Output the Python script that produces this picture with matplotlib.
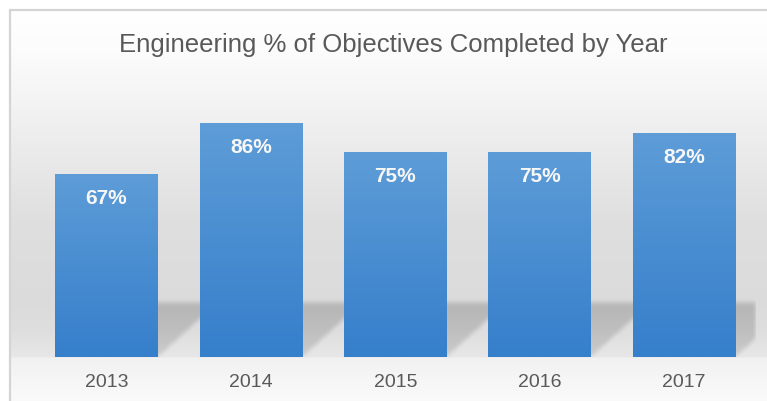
import matplotlib.pyplot as plt
import numpy as np

plt.rcParams['font.family'] = ['Liberation Sans', 'DejaVu Sans']

years = ['2013', '2014', '2015', '2016', '2017']
pct = [67, 86, 75, 75, 82]

W, H = 767, 401
fig = plt.figure(figsize=(W / 100, H / 100), dpi=100)
fig.patch.set_facecolor('white')

# chart area background: soft vertical grey gradient inside a thin frame
bg = fig.add_axes([0, 0, 1, 1], zorder=0)
bg.set_xlim(0, W)
bg.set_ylim(H, 0)
bg.axis('off')
rows = np.arange(10, H + 6)
stops_y = [10, 50, 100, 160, 220, 300, 330, 356, 358, 380, 401]
stops_g = [255, 252, 244, 233, 223, 219, 222, 231, 241, 246, 250]
grey = np.interp(rows, stops_y, stops_g)
grad = np.repeat(grey[:, None], 2, axis=1).astype(np.uint8)
grad = np.dstack([grad, grad, grad])
bg.imshow(grad, extent=(10, W + 6, H + 6, 10), aspect='auto', interpolation='nearest')
bg.plot([10, 10, W + 5], [H + 5, 10, 10], color='#d4d4d4', lw=1.6,
        solid_joinstyle='miter')
bg.set_xlim(0, W)
bg.set_ylim(H, 0)

ax = fig.add_axes([34.3 / W, 44 / H, 722 / W, 272 / H], zorder=1)
ax.patch.set_alpha(0)
for s in ax.spines.values():
    s.set_visible(False)

bw = 0.71
x = np.arange(len(years))

# slanted cast shadow behind each bar, built in pixel space
px_x = 722 / len(years)
px_y = 272 / 100
sh_h = 75
nx, ny = 722, sh_h
gx = (np.arange(nx) + 0.5) / px_x - 0.5
gy = np.arange(ny) + 0.5  # pixels above the baseline
reach = 55
slant = 1.1
mask = np.zeros((ny, nx))
for xi in x:
    xl, xr = xi - bw / 2, xi + bw / 2
    xs = gx[None, :] - slant * gy[:, None] / px_x
    inside = (xs >= xl) & (xs <= xr) & (gy[:, None] <= reach)
    mask = np.maximum(mask, inside.astype(float))
strength = np.interp(gy, [0, 25, reach - 6, reach], [0.12, 0.14, 0.17, 0.13])
alpha = mask * strength[:, None]


def box_blur(a, r):
    k = np.ones(2 * r + 1) / (2 * r + 1)
    a = np.apply_along_axis(lambda m: np.convolve(m, k, mode='same'), 0, a)
    a = np.apply_along_axis(lambda m: np.convolve(m, k, mode='same'), 1, a)
    return a


alpha = box_blur(box_blur(alpha, 2), 2)
shadow = np.zeros((ny, nx, 4))
shadow[..., 3] = alpha
ax.imshow(shadow[::-1], extent=(-0.5, len(years) - 0.5, 0, sh_h / px_y),
          aspect='auto', interpolation='bilinear', zorder=1)

# bars with a light-to-dark blue gradient
top_c = np.array([93, 156, 215]) / 255
bot_c = np.array([54, 127, 203]) / 255
t = np.linspace(0, 1, 64)[:, None]
bar_img = (top_c[None, :] * (1 - t) + bot_c[None, :] * t)[:, None, :]
for xi, v in zip(x, pct):
    ax.imshow(bar_img, extent=(xi - bw / 2, xi + bw / 2, 0, v),
              aspect='auto', interpolation='bilinear', zorder=2)
    ax.annotate(f'{v}%', xy=(xi, v), xytext=(0, -24), textcoords='offset pixels',
                ha='center', va='center', color='#f7f7f7', fontsize=15,
                fontweight='bold', zorder=3)
ax.set_xlim(-0.5, len(years) - 0.5)
ax.set_ylim(0, 100)

ax.set_yticks([])
ax.set_xticks(x)
ax.set_xticklabels(years, fontsize=14, color='#595959')
ax.tick_params(axis='x', length=0, pad=12)

fig.text(393 / W, 1 - 45 / H, 'Engineering % of Objectives Completed by Year',
         ha='center', va='center', fontsize=18.5, color='#595959')

fig.savefig('out.png', dpi=100)
